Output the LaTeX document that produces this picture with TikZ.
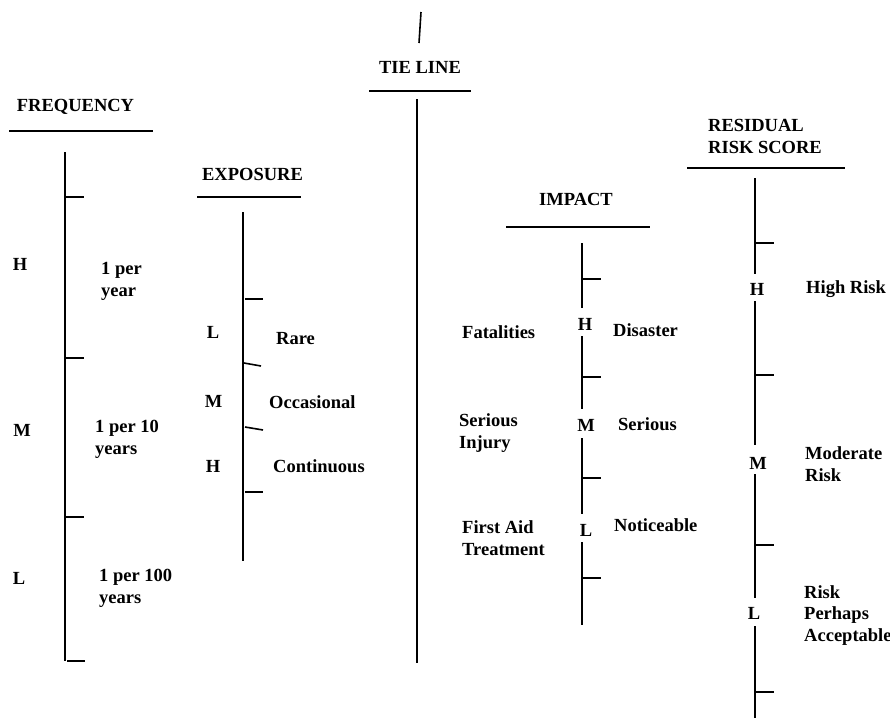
\documentclass[tikz,border=0pt]{standalone}
\usepackage{fontspec}
\setmainfont{Liberation Serif}
\begin{document}
\begin{tikzpicture}[x=1pt,y=-1pt,
  lbl/.style={font=\fontsize{18.5}{21.5}\selectfont\bfseries, inner sep=0pt, align=left},
  ln/.style={line width=1.6pt}]
\useasboundingbox (0,0) rectangle (890,718);

% titles and underlines
\node[lbl, anchor=base] (freqT) at (75.5,111) {FREQUENCY};
\draw[ln] (9,131) -- (153,131);
\node[lbl, anchor=base] (tieT) at (420,73) {TIE LINE};
\draw[ln] (369,91) -- (471,91);
\node[lbl, anchor=base] (expT) at (252.5,180) {EXPOSURE};
\draw[ln] (197,197) -- (301,197);
\node[lbl, anchor=base] (impT) at (576,205) {IMPACT};
\draw[ln] (506,227) -- (650,227);
\node[lbl, anchor=base west] (resT) at (708,153) {RESIDUAL\\RISK SCORE};
\draw[ln] (687,168) -- (845,168);

% tie line
\draw[ln] (421,12) -- (419,43);
\draw[ln] (417,99) -- (417,663);

% frequency scale
\draw[ln] (65,152) -- (65,661);
\foreach \y in {197,358,517} \draw[ln] (66,\y) -- (84,\y);
\draw[ln] (67,661) -- (85,661);
\node[lbl, anchor=base] (fH) at (20,270) {H};
\node[lbl, anchor=base west] (fH2) at (101,296) {1 per\\year};
\node[lbl, anchor=base] (fM) at (22,436) {M};
\node[lbl, anchor=base west] (fM2) at (95,454) {1 per 10\\years};
\node[lbl, anchor=base] (fL) at (19,584) {L};
\node[lbl, anchor=base west] (fL2) at (99,603) {1 per 100\\years};

% exposure scale
\draw[ln] (243,212) -- (243,561);
\draw[ln] (245,299) -- (263,299);
\draw[ln] (244,363) -- (261,366);
\draw[ln] (245,427) -- (263,430);
\draw[ln] (245,492) -- (263,492);
\node[lbl, anchor=base] (eL) at (213,338) {L};
\node[lbl, anchor=base west] (eL2) at (276,344) {Rare};
\node[lbl, anchor=base] (eM) at (213.5,407) {M};
\node[lbl, anchor=base west] (eM2) at (269,408) {Occasional};
\node[lbl, anchor=base] (eH) at (213,472) {H};
\node[lbl, anchor=base west] (eH2) at (273,472) {Continuous};

% impact scale
\draw[ln] (582,243) -- (582,308);
\draw[ln] (582,336) -- (582,409);
\draw[ln] (582,438) -- (582,514);
\draw[ln] (582,542) -- (582,625);
\foreach \y in {279,377,478,578} \draw[ln] (583,\y) -- (601,\y);
\node[lbl, anchor=base] (iH) at (585,330) {H};
\node[lbl, anchor=base west] (iH2) at (613,336) {Disaster};
\node[lbl, anchor=base west] (iH1) at (462,338) {Fatalities};
\node[lbl, anchor=base] (iM) at (586,431) {M};
\node[lbl, anchor=base west] (iM2) at (618,430) {Serious};
\node[lbl, anchor=base west] (iM1) at (459,448) {Serious\\Injury};
\node[lbl, anchor=base] (iL) at (586,536) {L};
\node[lbl, anchor=base west] (iL2) at (614,531) {Noticeable};
\node[lbl, anchor=base west] (iL1) at (462,555) {First Aid\\Treatment};

% residual risk score
\draw[ln] (755,178) -- (755,274);
\draw[ln] (755,301) -- (755,445);
\draw[ln] (755,474) -- (755,598);
\draw[ln] (755,626) -- (755,718);
\foreach \y in {243,375,545,692} \draw[ln] (756,\y) -- (774,\y);
\node[lbl, anchor=base] (rH) at (757,295) {H};
\node[lbl, anchor=base west] (rH2) at (806,293) {High Risk};
\node[lbl, anchor=base] (rM) at (758,469) {M};
\node[lbl, anchor=base west] (rM2) at (805,481) {Moderate\\Risk};
\node[lbl, anchor=base] (rL) at (754,619) {L};
\node[lbl, anchor=base west] (rL2) at (804,641) {Risk\\Perhaps\\Acceptable};
\end{tikzpicture}
\end{document}
